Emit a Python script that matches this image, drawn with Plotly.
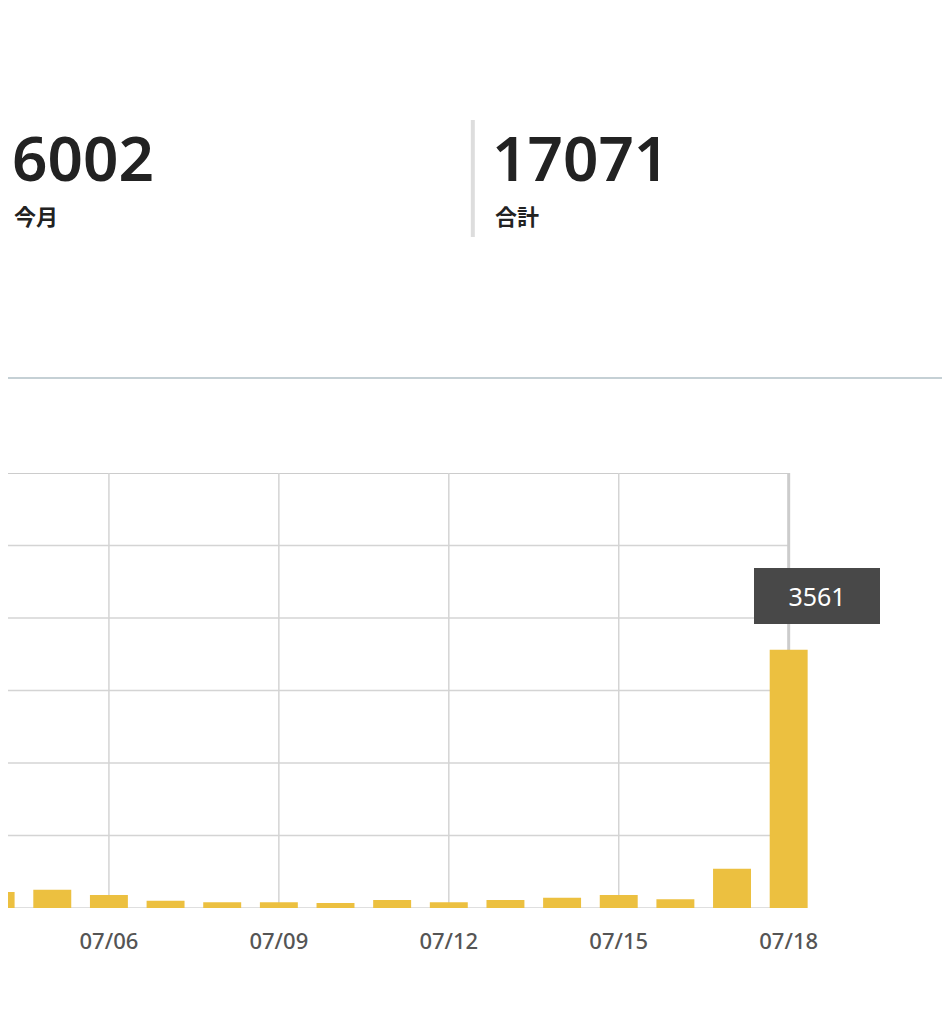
import plotly.graph_objects as go

days = ["07/04","07/05","07/06","07/07","07/08","07/09","07/10","07/11","07/12","07/13","07/14","07/15","07/16","07/17","07/18"]
views = [220, 250, 180, 100, 80, 80, 70, 110, 80, 110, 140, 180, 120, 540, 3561]
tick_days = ["07/06","07/09","07/12","07/15","07/18"]
month_total = 6002
all_total = 17071
label_month = "今月"
label_total = "合計"
y_max, y_step = 6000, 1000

OFF = 8  # page body margin
W, H = 950, 1024
L, R, T, B = 0, 950 - (789 - OFF), 473 - OFF, 1024 - (908 - OFF)
PW, PH = W - L - R, H - T - B
def py(y): return (H - B - (y - OFF)) / PH

day_px = 56.67
x_right = len(days) - 1
x_left = x_right - (789 - OFF) / day_px
x_ext = x_right + 0.5
xs = list(range(len(days)))
frac_right = (x_right - x_left) / (x_ext - x_left)
PWx = PW / frac_right
R2 = W - L - PWx
def pxx(x): return (x - OFF - L) / PWx

fig = go.Figure(go.Bar(x=xs, y=views, width=0.67, marker_color="#ecc040",
                       marker_line_width=0, hoverinfo="skip"))
NF = "Noto Sans, Noto Sans CJK JP"
fig.update_layout(
    width=W, height=H, margin=dict(l=L, r=R2, t=T, b=B),
    paper_bgcolor="white", plot_bgcolor="rgba(0,0,0,0)", showlegend=False,
    font=dict(family=NF),
    xaxis=dict(range=[x_left, x_ext], tickvals=[days.index(d) for d in tick_days], ticktext=tick_days,
               showgrid=False, zeroline=False, ticklabelstandoff=18,
               tickfont=dict(size=22, color="#555", weight=500), ticks="", showline=False),
    yaxis=dict(range=[0, y_max], showgrid=False, showticklabels=False, zeroline=False, showline=False),
)
grid = dict(color="#d4d4d4", width=1.5)
shapes = []
for v in range(0, y_max + 1, y_step):
    shapes.append(dict(type="line", xref="paper", yref="y", x0=0, x1=frac_right, y0=v, y1=v,
                       line=grid if v < y_max else dict(color="#cccccc", width=2), layer="below"))
for d in tick_days[:-1]:
    i = days.index(d)
    shapes.append(dict(type="line", xref="x", yref="paper", x0=i, x1=i, y0=0, y1=1, line=grid, layer="below"))
shapes += [
    dict(type="line", xref="x", yref="paper", x0=x_right, x1=x_right, y0=0, y1=1, line=dict(color="#cccccc", width=3), layer="below"),
    dict(type="line", xref="paper", yref="paper", x0=pxx(0), x1=pxx(950), y0=py(378), y1=py(378), line=dict(color="#c5d0d5", width=2)),
    dict(type="line", xref="paper", yref="paper", x0=pxx(473), x1=pxx(473), y0=py(120), y1=py(237), line=dict(color="#dddddd", width=4)),
]
fig.update_layout(shapes=shapes)
big = dict(size=62, color="#222", weight=600)
small = dict(size=22, color="#222", weight=700, family="Noto Sans CJK JP")
ann = [
    dict(text=str(month_total), x=pxx(10), y=py(157), xanchor="left", yanchor="middle", font=big),
    dict(text=label_month, x=pxx(12), y=py(215), xanchor="left", yanchor="middle", font=small),
    dict(text=str(all_total), x=pxx(490), y=py(157), xanchor="left", yanchor="middle", font=big),
    dict(text=label_total, x=pxx(493), y=py(215), xanchor="left", yanchor="middle", font=small),
    dict(text=str(views[-1]), x=pxx(817), y=py(596), xanchor="center", yanchor="middle",
         font=dict(size=25, color="white"), bgcolor="#484848", bordercolor="#484848",
         borderpad=10, width=104, height=34),
]
for a in ann:
    a.update(xref="paper", yref="paper", showarrow=False)
fig.update_layout(annotations=ann)
fig.write_html("out.html")
